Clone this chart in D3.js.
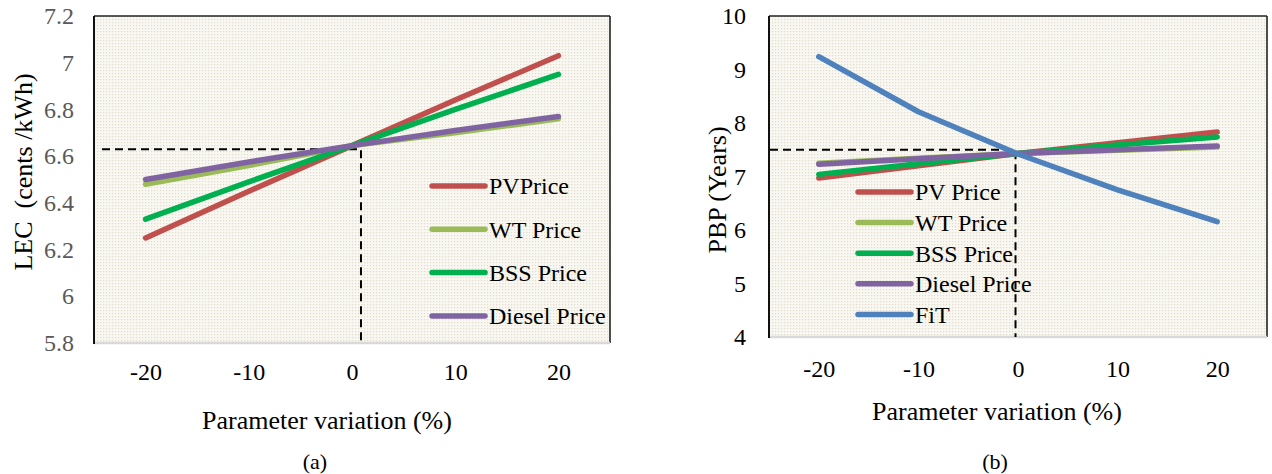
<!DOCTYPE html>
<html><head><meta charset="utf-8">
<script src="https://cdn.jsdelivr.net/npm/d3@7"></script>
<style>
html,body{margin:0;padding:0;background:#fff;}
svg{display:block;font-family:"Liberation Serif","Times New Roman",serif;}
</style></head>
<body>
<svg id="c" width="1272" height="474"></svg>
<script>
// ---- data ----
const xCats = [-20, -10, 0, 10, 20];
const lecTicks = [5.8, 6.0, 6.2, 6.4, 6.6, 6.8, 7.0, 7.2];
const pbpTicks = [4, 5, 6, 7, 8, 9, 10];
const seriesNamesA = ["PVPrice", "WT Price", "BSS Price", "Diesel Price"];
const seriesNamesB = ["PV Price", "WT Price", "BSS Price", "Diesel Price", "FiT"];
const lecPV = [6.25, 6.45, 6.645, 6.84, 7.03];
const lecWT = [6.48, 6.56, 6.645, 6.70, 6.76];
const lecBSS = [6.33, 6.49, 6.645, 6.80, 6.95];
const lecDiesel = [6.50, 6.575, 6.645, 6.71, 6.77];
const pbpPV = [6.97, 7.20, 7.43, 7.63, 7.83];
const pbpWT = [7.25, 7.34, 7.43, 7.49, 7.55];
const pbpBSS = [7.04, 7.24, 7.43, 7.59, 7.74];
const pbpDiesel = [7.23, 7.33, 7.43, 7.50, 7.57];
const pbpFiT = [9.24, 8.21, 7.42, 6.75, 6.155];
const lecRef = [0.87, 6.63];
const pbpRef = [-0.25, 7.5];
const colors = ["#c0504d", "#9bbb59", "#00b050", "#8064a2", "#4f81bd"];

const svg = d3.select("#c");
const defs = svg.append("defs");
const pat = defs.append("pattern").attr("id","dots").attr("width",3).attr("height",3).attr("patternUnits","userSpaceOnUse");
pat.append("rect").attr("width",3).attr("height",3).attr("fill","#f8f7f1");
pat.append("rect").attr("x",1).attr("y",1).attr("width",1.2).attr("height",1.2).attr("fill","#e2ddcb");

function panel(cfg){
  const x = d3.scaleLinear().domain([-25,25]).range([cfg.x0, cfg.x1]);
  const y = d3.scaleLinear().domain(cfg.yDomain).range([cfg.y1, cfg.y0]);
  const g = svg.append("g");
  g.append("rect").attr("x",cfg.x0).attr("y",cfg.y0).attr("width",cfg.x1-cfg.x0).attr("height",cfg.y1-cfg.y0).attr("fill","url(#dots)");
  // borders
  g.append("line").attr("x1",cfg.x0).attr("x2",cfg.x1).attr("y1",cfg.y0).attr("y2",cfg.y0).attr("stroke","#222").attr("stroke-width",1.6);
  g.append("line").attr("x1",cfg.x1).attr("x2",cfg.x1).attr("y1",cfg.y0).attr("y2",cfg.y1).attr("stroke","#222").attr("stroke-width",1.6);
  g.append("line").attr("x1",cfg.x0).attr("x2",cfg.x1).attr("y1",cfg.y1).attr("y2",cfg.y1).attr("stroke","#d9d9d9").attr("stroke-width",2.5);
  g.append("line").attr("x1",cfg.x0).attr("x2",cfg.x0).attr("y1",cfg.y0).attr("y2",cfg.y1+1).attr("stroke","#111").attr("stroke-width",2);
  // y axis
  const ya = g.append("g").attr("transform",`translate(${cfg.x0-cfg.yLabelGap},0)`)
    .call(d3.axisLeft(y).tickValues(cfg.yTicks).tickSize(0).tickPadding(0).tickFormat(d => String(d)));
  ya.select(".domain").remove();
  ya.selectAll("text").attr("font-family","Liberation Serif").attr("font-size",cfg.yFont).attr("fill",cfg.yColor);
  // x axis
  const xa = g.append("g").attr("transform",`translate(0,${cfg.xLabelY})`)
    .call(d3.axisBottom(x).tickValues(xCats).tickSize(0).tickPadding(0).tickFormat(d => String(d)));
  xa.select(".domain").remove();
  xa.selectAll("text").attr("y",0).attr("dy","0.35em").attr("font-family","Liberation Serif").attr("font-size",cfg.xFont).attr("fill","#000");
  // reference dashed
  g.append("path").attr("d",`M${cfg.x0+cfg.dashStart},${y(cfg.ref[1])}H${x(cfg.ref[0])}V${cfg.y1}`)
    .attr("fill","none").attr("stroke","#000").attr("stroke-width",2).attr("stroke-dasharray","8,5");
  const line = d3.line().x((d,i)=>x(xCats[i])).y(d=>y(d));
  cfg.series.forEach((s,i)=>{
    g.append("path").attr("d",line(s)).attr("fill","none").attr("stroke",colors[i])
      .attr("stroke-width",5.5).attr("stroke-linecap","round").attr("stroke-linejoin","round");
  });
  // legend
  cfg.names.forEach((n,i)=>{
    const ly = cfg.legY0 + i*cfg.legStep;
    g.append("line").attr("x1",cfg.legX).attr("x2",cfg.legX+53).attr("y1",ly).attr("y2",ly)
      .attr("stroke",colors[i]).attr("stroke-width",5.5).attr("stroke-linecap","round");
    g.append("text").attr("x",cfg.legX+57).attr("y",ly).attr("dy","0.35em")
      .attr("font-size",cfg.legFont).attr("fill","#000").text(n);
  });
  // titles
  g.append("text").attr("x",cfg.xTitle[0]).attr("y",cfg.xTitle[1]).attr("text-anchor","middle")
    .attr("font-size",26).attr("fill","#000").text("Parameter variation (%)");
  g.append("text").attr("transform",`translate(${cfg.yTitle[0]},${cfg.yTitle[1]}) rotate(-90)`)
    .attr("text-anchor","middle").attr("font-size",26).attr("fill","#000")
    .style("white-space","pre").text(cfg.yTitleText);
  g.append("text").attr("x",cfg.cap[0]).attr("y",cfg.cap[1]).attr("text-anchor","middle")
    .attr("font-size",22).attr("fill","#000").text(cfg.capText);
}

panel({x0:94, x1:610, y0:16, y1:343, yDomain:[5.8,7.2], yTicks:lecTicks, yLabelGap:20, yFont:24, yColor:"#595959",
  xLabelY:372, xFont:24, ref:lecRef, dashStart:8,
  series:[lecPV, lecWT, lecBSS, lecDiesel], names:seriesNamesA,
  legX:432, legY0:186, legStep:43.3, legFont:24,
  xTitle:[327,429], yTitle:[32,172], yTitleText:"LEC  (cents /kWh)", cap:[315,469], capText:"(a)"});

panel({x0:769, x1:1267, y0:16, y1:337, yDomain:[4,10], yTicks:pbpTicks, yLabelGap:23, yFont:24, yColor:"#000",
  xLabelY:369, xFont:24, ref:pbpRef, dashStart:1,
  series:[pbpPV, pbpWT, pbpBSS, pbpDiesel, pbpFiT], names:seriesNamesB,
  legX:858, legY0:192, legStep:30.6, legFont:24,
  xTitle:[997,420], yTitle:[726,190], yTitleText:"PBP (Years)", cap:[995,469], capText:"(b)"});
</script>
</body></html>
